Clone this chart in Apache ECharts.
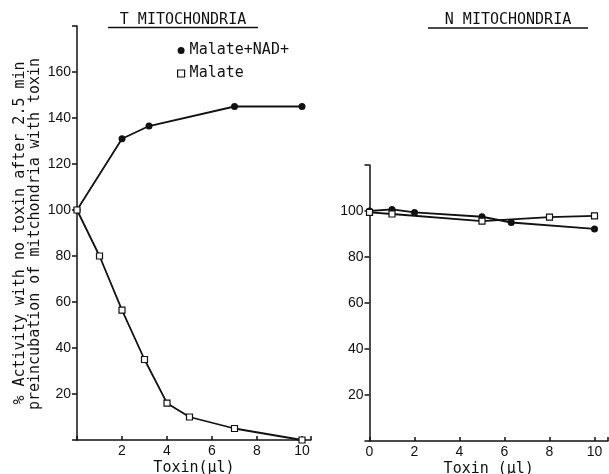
<!DOCTYPE html>
<html><head><meta charset="utf-8">
<script src="https://cdn.jsdelivr.net/npm/echarts@6/dist/echarts.min.js"></script>
<style>html,body{margin:0;padding:0;background:#fff}#c{width:609px;height:474px}</style>
</head><body><div id="c"></div>
<script>
// T mitochondria
const tNadX = [0, 2, 3.2, 7, 10];
const tNadY = [100, 131, 136.5, 145, 145];
const tMalX = [0, 1, 2, 3, 4, 5, 7, 10];
const tMalY = [100, 80, 56.5, 35, 16, 10, 5, 0];
// N mitochondria
const nNadX = [0, 1, 2, 5, 6.3, 10];
const nNadY = [100, 100.7, 99.4, 97.5, 95, 92.2];
const nMalX = [0, 1, 5, 8, 10];
const nMalY = [99.4, 98.7, 95.6, 97.3, 97.9];
const seriesNames = ['Malate+NAD+', 'Malate'];
const panelTitles = ['T MITOCHONDRIA', 'N MITOCHONDRIA'];
const xNames = ['Toxin(μl)', 'Toxin (μl)'];
const yName1 = '% Activity with no toxin after 2.5 min';
const yName2 = 'preincubation of mitchondria with toxin';

const zip = (xs, ys) => xs.map((x, i) => [x, ys[i]]);
const mono = 'DejaVu Sans Mono';
const ink = '#111';

const chart = echarts.init(document.getElementById('c'), null, {renderer: 'canvas'});

const xAxisBase = (idx, max, showZero) => ({
  type: 'value', gridIndex: idx, min: 0, max: max, interval: 2,
  splitLine: {show: false},
  axisLine: {lineStyle: {color: ink, width: 1.5}},
  axisTick: {inside: true, length: 4, lineStyle: {color: ink, width: 1.5}},
  axisLabel: {color: ink, fontFamily: 'Liberation Sans', fontSize: 14, margin: 4,
    formatter: v => (Math.abs(v - Math.round(v)) > 1e-6 || v > 10 || (!showZero && v === 0)) ? '' : String(v)},
  name: xNames[idx], nameLocation: 'middle', nameGap: 21, nameMoveOverlap: false,
  nameTextStyle: {color: ink, fontFamily: mono, fontSize: 15, verticalAlign: 'top'}
});
const yAxisBase = (idx, max) => ({
  type: 'value', gridIndex: idx, min: 0, max: max, interval: 20,
  splitLine: {show: false},
  axisLine: {lineStyle: {color: ink, width: 1.5}},
  axisTick: {length: 5, lineStyle: {color: ink, width: 1.5}},
  axisLabel: {color: ink, fontFamily: 'Liberation Sans', fontSize: 14, margin: 6,
    formatter: v => (v === 0 || v === max) ? '' : String(v)}
});

const nadStyle = {color: ink};
const malStyle = {color: '#fff', borderColor: ink, borderWidth: 1.2};

const mk = (name, data, xi, filled) => ({
  name: name, type: 'line', xAxisIndex: xi, yAxisIndex: xi, data: data,
  symbol: filled ? 'circle' : 'rect', symbolSize: filled ? 7 : 6,
  itemStyle: filled ? nadStyle : malStyle,
  lineStyle: {color: ink, width: 1.8},
  z: filled ? 3 : 4, animation: false
});

chart.setOption({
  animation: false,
  grid: [
    {left: 77, top: 26, right: 298, bottom: 34, containLabel: false, outerBoundsMode: 'none'},
    {left: 369.5, top: 165, right: 1, bottom: 33, containLabel: false, outerBoundsMode: 'none'}
  ],
  xAxis: [xAxisBase(0, 10.4, false), xAxisBase(1, 10.6, true)],
  yAxis: [yAxisBase(0, 180), yAxisBase(1, 120)],
  legend: {
    orient: 'vertical', left: 172, top: 38, itemWidth: 7, itemHeight: 7, itemGap: 8,
    textStyle: {color: ink, fontFamily: mono, fontSize: 15, padding: [0, 0, 0, 0]},
    data: [
      {name: seriesNames[0], icon: 'circle', itemStyle: nadStyle},
      {name: seriesNames[1], icon: 'rect', itemStyle: malStyle}
    ]
  },
  series: [
    mk(seriesNames[0], zip(tNadX, tNadY), 0, true),
    mk(seriesNames[1], zip(tMalX, tMalY), 0, false),
    mk(seriesNames[0], zip(nNadX, nNadY), 1, true),
    mk(seriesNames[1], zip(nMalX, nMalY), 1, false)
  ],
  graphic: [
    {type: 'text', x: 183, y: 20, style: {text: panelTitles[0], fill: ink, font: '15px "DejaVu Sans Mono"', textAlign: 'center', textVerticalAlign: 'middle'}},
    {type: 'line', shape: {x1: 108, y1: 27.5, x2: 258, y2: 27.5}, style: {stroke: ink, lineWidth: 1.5}},
    {type: 'text', x: 508, y: 20, style: {text: panelTitles[1], fill: ink, font: '15px "DejaVu Sans Mono"', textAlign: 'center', textVerticalAlign: 'middle'}},
    {type: 'line', shape: {x1: 428, y1: 28, x2: 588, y2: 28}, style: {stroke: ink, lineWidth: 1.5}},
    {type: 'text', x: 20, y: 233, rotation: Math.PI / 2, style: {text: yName1, fill: ink, font: '15px "DejaVu Sans Mono"', textAlign: 'center', textVerticalAlign: 'middle'}},
    {type: 'text', x: 35, y: 234, rotation: Math.PI / 2, style: {text: yName2, fill: ink, font: '15px "DejaVu Sans Mono"', textAlign: 'center', textVerticalAlign: 'middle'}}
  ]
});
</script></body></html>
